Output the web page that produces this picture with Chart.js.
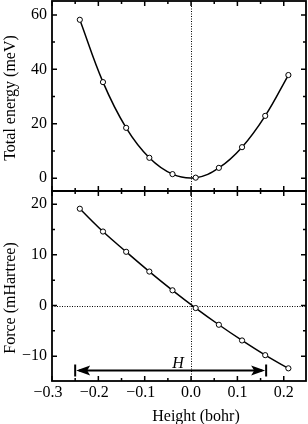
<!DOCTYPE html>
<html>
<head>
<meta charset="utf-8">
<script src="https://cdn.jsdelivr.net/npm/chart.js@4"></script>
<style>
  html, body { margin: 0; padding: 0; background: #fff; }
  #wrap { position: relative; width: 308px; height: 424px; overflow: hidden; }
  canvas { position: absolute; left: 0; display: block; }
  #chartEnergy { top: 0; }
  #chartForce { top: 190px; }
</style>
</head>
<body>
<div id="wrap">
  <canvas id="chartEnergy" width="308" height="192"></canvas>
  <canvas id="chartForce" width="308" height="234"></canvas>
</div>
<script>
// Energy / force vs. height: two stacked panels sharing the x range.
const heights = [-0.24, -0.19, -0.14, -0.09, -0.04, 0.01, 0.06, 0.11, 0.16, 0.21];
const energy = [58.2, 35.3, 18.5, 7.5, 1.5, 0.2, 3.8, 11.4, 22.9, 37.9];
const force = [19.1, 14.6, 10.6, 6.7, 3.0, -0.5, -3.8, -6.9, -9.8, -12.4];

const xTicks = [-0.3, -0.2, -0.1, 0, 0.1, 0.2];
const xMinor = [-0.25, -0.15, -0.05, 0.05, 0.15];
const energyTicks = [0, 20, 40, 60];
const energyMinor = [10, 30, 50];
const forceTicks = [-10, 0, 10, 20];
const forceMinor = [-5, 5, 15];

// the "H" span arrow in the force panel
const arrowX = [-0.25, 0.162];
const arrowY = -12.85;
const arrowLabel = "H";
const arrowLabelPos = [-0.028, -12.4];

const FONT = "'Liberation Serif', 'DejaVu Serif', serif";
const X_RANGE = [-0.3, 0.248];
Chart.defaults.font.family = FONT;
Chart.defaults.font.size = 16;
Chart.defaults.color = "#000";

function fmtNum(v, digits) {
  const s = Math.abs(v).toFixed(digits);
  return v < 0 ? "\u2212" + s : s;
}

// frame, inward ticks, dotted zero lines, axis titles, arrow
const framePlugin = {
  id: "frame",
  beforeDatasetsDraw(chart, args, o) {
    const { ctx, chartArea: a, scales } = chart;
    ctx.save();
    ctx.strokeStyle = "#000";
    ctx.lineWidth = 1;
    ctx.setLineDash([1, 1.5]);
    const x0 = Math.round(scales.x.getPixelForValue(0)) + 0.5;
    ctx.beginPath();
    ctx.moveTo(x0, a.top);
    ctx.lineTo(x0, a.bottom);
    if (o.zeroLine) {
      const y0 = Math.round(scales.y.getPixelForValue(0)) + 0.5;
      ctx.moveTo(a.left, y0);
      ctx.lineTo(a.right, y0);
    }
    ctx.stroke();
    ctx.restore();
  },
  afterDatasetsDraw(chart, args, o) {
    const { ctx, chartArea: a, scales } = chart;
    ctx.save();
    ctx.strokeStyle = "#000";
    ctx.fillStyle = "#000";
    ctx.lineWidth = 1.5;
    ctx.beginPath();
    const tickX = (vals, len) => vals.forEach((v) => {
      const px = scales.x.getPixelForValue(v);
      ctx.moveTo(px, a.top); ctx.lineTo(px, a.top + len);
      ctx.moveTo(px, a.bottom); ctx.lineTo(px, a.bottom - len);
    });
    const tickY = (vals, len) => vals.forEach((v) => {
      const py = scales.y.getPixelForValue(v);
      ctx.moveTo(a.left, py); ctx.lineTo(a.left + len, py);
      ctx.moveTo(a.right, py); ctx.lineTo(a.right - len, py);
    });
    tickX(xTicks, 5); tickX(xMinor, 3);
    tickY(o.yTicks, 5); tickY(o.yMinor, 3);
    ctx.stroke();
    ctx.lineWidth = 1.8;
    ctx.strokeRect(a.left, a.top, a.right - a.left, a.bottom - a.top);

    if (o.arrow) {
      const xl = scales.x.getPixelForValue(arrowX[0]);
      const xr = scales.x.getPixelForValue(arrowX[1]);
      const y = scales.y.getPixelForValue(arrowY);
      ctx.lineWidth = 2;
      ctx.beginPath();
      ctx.moveTo(xl + 4, y); ctx.lineTo(xr - 4, y);
      ctx.moveTo(xl, y - 6); ctx.lineTo(xl, y + 6);
      ctx.moveTo(xr, y - 6); ctx.lineTo(xr, y + 6);
      ctx.stroke();
      ctx.beginPath();
      ctx.moveTo(xl + 1, y); ctx.lineTo(xl + 15, y - 5); ctx.lineTo(xl + 12, y); ctx.lineTo(xl + 15, y + 5); ctx.closePath();
      ctx.moveTo(xr - 1, y); ctx.lineTo(xr - 15, y - 5); ctx.lineTo(xr - 12, y); ctx.lineTo(xr - 15, y + 5); ctx.closePath();
      ctx.fill();
      ctx.font = "italic 16px " + FONT;
      ctx.textAlign = "center";
      ctx.textBaseline = "alphabetic";
      ctx.fillText(arrowLabel,
        scales.x.getPixelForValue(arrowLabelPos[0]),
        scales.y.getPixelForValue(arrowLabelPos[1]));
    }

    ctx.font = "16px " + FONT;
    ctx.textAlign = "center";
    ctx.textBaseline = "middle";
    ctx.save();
    ctx.translate(11, (a.top + a.bottom) / 2 + o.yTitleShift);
    ctx.rotate(-Math.PI / 2);
    ctx.fillText(o.yTitle, 0, 0);
    ctx.restore();
    if (o.xTitle) {
      ctx.fillText(o.xTitle, (a.left + a.right) / 2 + 17, a.bottom + 36);
    }
    ctx.restore();
  },
};

function series(ys) {
  return heights.map((x, i) => ({ x, y: ys[i] }));
}

function makePanel(id, ys, yMin, yMax, yTicks, frameOpts, showX) {
  const ctx = document.getElementById(id).getContext("2d");
  return new Chart(ctx, {
    type: "scatter",
    data: {
      datasets: [{
        data: series(ys),
        showLine: true,
        tension: 0.4,
        borderColor: "#000",
        borderWidth: 1.5,
        pointRadius: 2.6,
        pointBorderWidth: 1,
        pointBackgroundColor: "#fff",
        pointBorderColor: "#000",
      }],
    },
    options: {
      responsive: false,
      animation: false,
      layout: { autoPadding: false, padding: { top: 1, right: 2, bottom: showX ? 0 : 1, left: 0 } },
      plugins: { legend: { display: false }, tooltip: { enabled: false }, frame: frameOpts },
      scales: {
        x: {
          type: "linear",
          min: X_RANGE[0],
          max: X_RANGE[1],
          display: showX,
          grid: { display: false, drawTicks: false },
          border: { display: false },
          afterBuildTicks: (s) => { s.ticks = xTicks.map((v) => ({ value: v })); },
          afterFit: (s) => {
            s.paddingLeft = 0; s.paddingRight = 0;
            if (showX) s.height = 43;
          },
          ticks: {
            padding: 2,
            maxRotation: 0,
            autoSkip: false,
            callback: (v) => fmtNum(v, 1) + (v < 0 ? "\u2002" : ""),
          },
        },
        y: {
          min: yMin,
          max: yMax,
          grid: { display: false, drawTicks: false },
          border: { display: false },
          afterBuildTicks: (s) => { s.ticks = yTicks.map((v) => ({ value: v })); },
          afterFit: (s) => { s.width = 52; s.paddingTop = 0; s.paddingBottom = 0; },
          ticks: {
            padding: 5,
            callback: (v) => fmtNum(v, 0),
          },
        },
      },
    },
    plugins: [framePlugin],
  });
}

makePanel("chartEnergy", energy, -4.7, 65.1, energyTicks, {
  yTicks: energyTicks, yMinor: energyMinor, yTitle: "Total energy (meV)", yTitleShift: 2,
}, false);

makePanel("chartForce", force, -14.9, 22.6, forceTicks, {
  yTicks: forceTicks, yMinor: forceMinor, yTitle: "Force (mHartree)", yTitleShift: 12,
  zeroLine: true, arrow: true, xTitle: "Height (bohr)",
}, true);
</script>
</body>
</html>
